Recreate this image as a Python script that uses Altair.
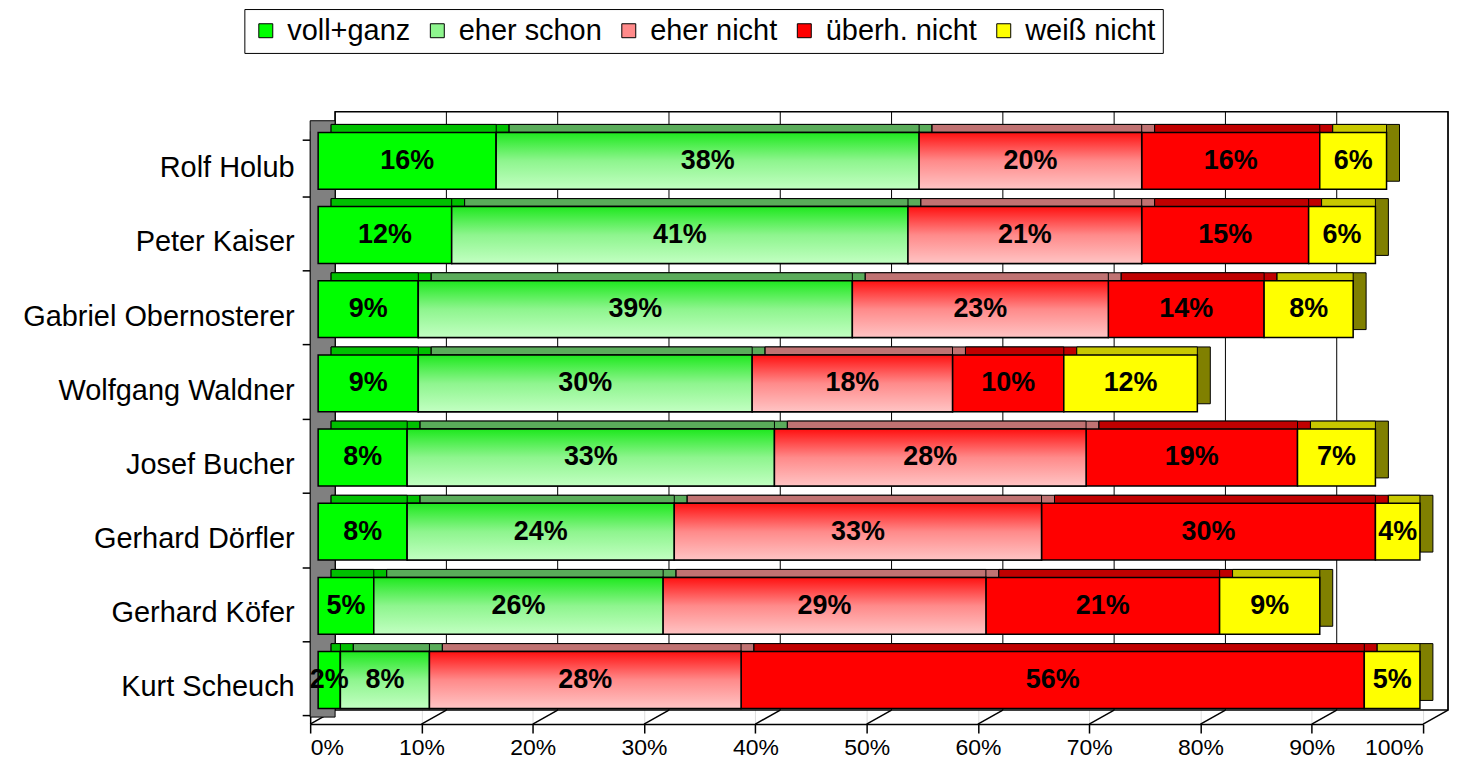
import altair as alt
import pandas as pd

names = ["Rolf Holub", "Peter Kaiser", "Gabriel Obernosterer", "Wolfgang Waldner",
         "Josef Bucher", "Gerhard Dörfler", "Gerhard Köfer", "Kurt Scheuch"]
categories = ["voll+ganz", "eher schon", "eher nicht", "überh. nicht", "weiß nicht"]
voll_ganz = [16, 12, 9, 9, 8, 8, 5, 2]
eher_schon = [38, 41, 39, 30, 33, 24, 26, 8]
eher_nicht = [20, 21, 23, 18, 28, 33, 29, 28]
ueberh_nicht = [16, 15, 14, 10, 19, 30, 21, 56]
weiss_nicht = [6, 6, 8, 12, 7, 4, 9, 5]
x_ticks = [0, 10, 20, 30, 40, 50, 60, 70, 80, 90, 100]

front_colors = ["#00ff00", "#8ef58e", "#ff8a8a", "#ff0000", "#ffff00"]
top_colors = ["#00c000", "#5aac5a", "#c07272", "#c00000", "#c8c800"]
side_colors = ["#00c000", "#5aac5a", "#c07272", "#c00000", "#808000"]

series = [voll_ganz, eher_schon, eher_nicht, ueberh_nicht, weiss_nicht]
rows = []
for i, n in enumerate(names):
    for k, c in enumerate(categories):
        rows.append({"name": n, "cat": c, "order": k, "value": series[k][i],
                     "top": top_colors[k], "side": side_colors[k]})
df = pd.DataFrame(rows)
ticks_df = pd.DataFrame({"t": x_ticks})
one = pd.DataFrame({"a": [0]})

FONT = "Liberation Sans"
W, H = 1116, 595
FX, FY = 8, -7      # front face offset
DX, DY = 13, -8     # extrusion depth
WX, WY = 25, -14    # back wall depth

x_axis = alt.Axis(values=x_ticks, labelExpr="datum.value + '%'", title=None)
y_axis = alt.Axis(title=None, tickBand="extent")
xscale = alt.Scale(domain=[0, 100], nice=False, zero=False)
yscale = alt.Scale(domain=names, paddingInner=0.234, paddingOuter=0.117)

Y = alt.Y("name:N", sort=names, scale=yscale, axis=y_axis)

base = alt.Chart(df).transform_stack(
    stack="value", groupby=["name"], as_=["x0", "x1"],
    sort=[alt.SortField("order", order="ascending")]
)

X0 = alt.X("x0:Q", scale=xscale, axis=x_axis)
X1 = alt.X2("x1:Q")

back_wall = alt.Chart(one).mark_rect(fill="white", stroke="black", strokeWidth=1.5).encode(
    x=alt.value(WX), x2=alt.value(W + WX), y=alt.value(-19), y2=alt.value(H + WY)
)
grid = alt.Chart(ticks_df).mark_rule(color="black", strokeWidth=1, xOffset=WX).encode(
    x=alt.X("t:Q", scale=xscale, axis=x_axis), y=alt.value(-19), y2=alt.value(H + WY)
)
floor = alt.Chart(ticks_df).mark_rule(color="black", strokeWidth=1.5, x2Offset=WX).encode(
    x=alt.X("t:Q", scale=xscale, axis=x_axis), x2="t:Q", y=alt.value(H), y2=alt.value(H + WY)
)
left_wall = alt.Chart(one).mark_rect(fill="#808080", stroke="black", strokeWidth=1).encode(
    x=alt.value(0), x2=alt.value(WX), y=alt.value(-10), y2=alt.value(H - 7)
)

side = base.mark_bar(stroke="black", strokeWidth=1,
                     xOffset=FX + DX, x2Offset=FX + DX,
                     yOffset=FY + DY, y2Offset=FY + DY).encode(
    x=X0, x2=X1, y=Y, color=alt.Color("side:N", scale=None)
)
top = base.mark_bar(stroke="black", strokeWidth=1,
                    xOffset=FX + DX, x2Offset=FX,
                    yOffset=FY + DY, y2Offset=FY + DY).encode(
    x=X0, x2=X1, y=Y, color=alt.Color("top:N", scale=None)
)
front = base.mark_bar(stroke="black", strokeWidth=1.5, opacity=1,
                      xOffset=FX, x2Offset=FX, yOffset=FY, y2Offset=FY).encode(
    x=X0, x2=X1, y=Y,
    color=alt.Color("cat:N", scale=alt.Scale(domain=categories, range=front_colors),
                    legend=alt.Legend(orient="none", legendX=-66, legendY=-122,
                                      direction="horizontal", columns=5, title=None,
                                      labelFontSize=29, labelFont=FONT, labelColor="black",
                                      symbolType="square", symbolSize=196,
                                      symbolStrokeColor="black", symbolStrokeWidth=1,
                                      symbolOpacity=1, strokeColor="black", padding=7,
                                      labelOffset=7, columnPadding=12))
)

grad_schon = alt.Gradient(gradient="linear", x1=0, x2=0, y1=0, y2=1, stops=[
    alt.GradientStop(color="#1ee81e", offset=0),
    alt.GradientStop(color="#8ef58e", offset=0.5),
    alt.GradientStop(color="#c2ffc2", offset=1)])
grad_nicht = alt.Gradient(gradient="linear", x1=0, x2=0, y1=0, y2=1, stops=[
    alt.GradientStop(color="#ff1010", offset=0),
    alt.GradientStop(color="#ff8a8a", offset=0.5),
    alt.GradientStop(color="#ffc4c4", offset=1)])

g1 = base.transform_filter(alt.datum.cat == "eher schon").mark_bar(
    color=grad_schon, stroke="black", strokeWidth=1.5,
    xOffset=FX, x2Offset=FX, yOffset=FY, y2Offset=FY).encode(x=X0, x2=X1, y=Y)
g2 = base.transform_filter(alt.datum.cat == "eher nicht").mark_bar(
    color=grad_nicht, stroke="black", strokeWidth=1.5,
    xOffset=FX, x2Offset=FX, yOffset=FY, y2Offset=FY).encode(x=X0, x2=X1, y=Y)

labels = base.transform_calculate(
    mid="(datum.x0 + datum.x1) / 2", lab="datum.value + '%'"
).mark_text(font=FONT, fontSize=27, fontWeight="bold", color="black",
            dx=FX, dy=FY, align="center", baseline="middle").encode(
    x=alt.X("mid:Q", scale=xscale, axis=x_axis), y=Y, text="lab:N"
)

chart = alt.layer(back_wall, grid, floor, left_wall, side, top, front, g1, g2, labels).properties(
    width=W, height=H,
    autosize=alt.AutoSizeParams(type="none"),
    padding={"left": 303, "top": 122, "right": 30, "bottom": 41},
    background="white",
).configure_view(stroke=None).configure_axis(
    domainColor="black", tickColor="black", labelColor="black", labelFont=FONT,
).configure_axisX(
    labelFontSize=23, tickSize=9, labelPadding=4, domainWidth=1.5, tickWidth=1.5,
).configure_axisY(
    labelFontSize=29, tickSize=8, labelPadding=8, labelLimit=400, domainWidth=1.5, tickWidth=1.5,
)

chart.save("out.html", embed_options={"renderer": "svg", "actions": False})
